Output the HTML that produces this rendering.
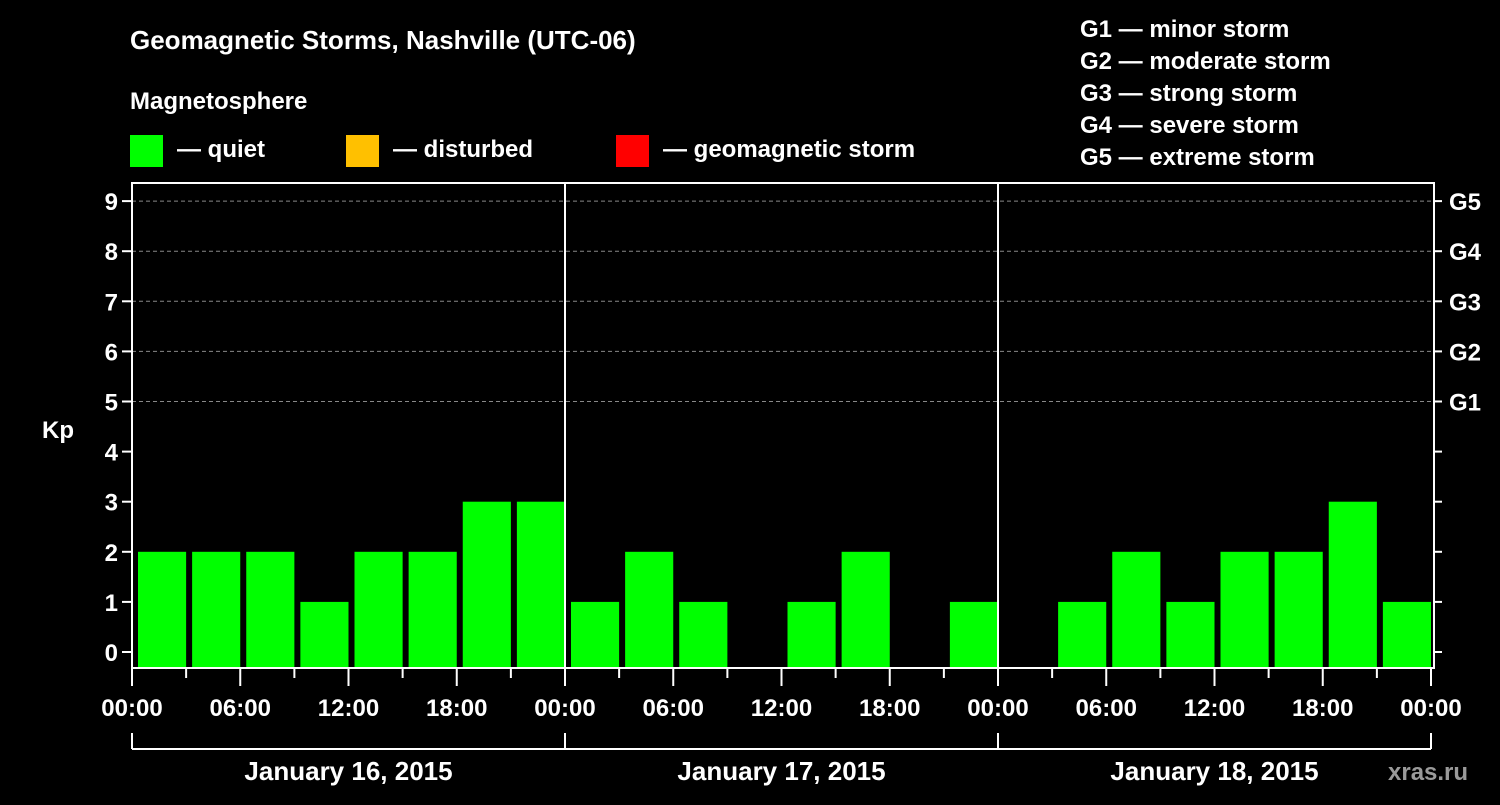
<!DOCTYPE html>
<html><head><meta charset="utf-8"><style>
body{margin:0;background:#000;width:1500px;height:800px;overflow:hidden}
svg text{font-family:"Liberation Sans",sans-serif;font-weight:bold;fill:#fff}
</style></head><body>
<svg id="c" width="1500" height="800" xmlns="http://www.w3.org/2000/svg">
<text x="130" y="49" font-size="26">Geomagnetic Storms, Nashville (UTC-06)</text>
<text x="130" y="109" font-size="24">Magnetosphere</text>
<g><rect x="130" y="135" width="33" height="32" fill="#00ff00"/><text x="177" y="157" font-size="24">— quiet</text></g>
<g><rect x="346" y="135" width="33" height="32" fill="#ffc000"/><text x="393" y="157" font-size="24">— disturbed</text></g>
<g><rect x="616" y="135" width="33" height="32" fill="#ff0000"/><text x="663" y="157" font-size="24">— geomagnetic storm</text></g>
<g font-size="24">
<text x="1080" y="37">G1 — minor storm</text><text x="1080" y="69">G2 — moderate storm</text><text x="1080" y="101">G3 — strong storm</text><text x="1080" y="133">G4 — severe storm</text><text x="1080" y="165">G5 — extreme storm</text></g>
<text x="1388" y="780" font-size="24" fill="#999" style="fill:#9a9a9a">xras.ru</text>
<g id="plot"></g>
</svg>
<script>
const days=["January 16, 2015","January 17, 2015","January 18, 2015"];
const kpValues=[2,2,2,1,2,2,3,3, 1,2,1,0,1,2,0,1, 0,1,2,1,2,2,3,1];
const yTicks=[0,1,2,3,4,5,6,7,8,9];
const gLabels=["G1","G2","G3","G4","G5"];
const xTickLabels=["00:00","06:00","12:00","18:00"];
const NS="http://www.w3.org/2000/svg";
const g=document.getElementById('plot');
const X0=132,X1=1431,Ytop=183,Ybot=668;
const slotW=(X1-X0)/kpValues.length;
const y=v=>652-v*50.1;
const x=i=>X0+i*slotW;
function mk(t,a,txt){const e=document.createElementNS(NS,t);for(const k in a)e.setAttribute(k,a[k]);if(txt!==undefined)e.textContent=txt;g.appendChild(e);return e;}
yTicks.forEach(v=>{
 if(v>=5){const l=mk('line',{x1:X0,x2:X1+3,y1:y(v),y2:y(v),stroke:'#888','stroke-dasharray':'4,3','stroke-width':1});
 
 }
 mk('line',{x1:X0-10,x2:X0,y1:y(v),y2:y(v),stroke:'#fff','stroke-width':2});
 mk('line',{x1:X1+3,x2:X1+11,y1:y(v),y2:y(v),stroke:'#fff','stroke-width':2});
 const t=mk('text',{x:X0-14,y:y(v)+9,'font-size':24,'text-anchor':'end'},String(v));
 
 
});
gLabels.forEach((s,i)=>{const t=mk('text',{x:1449,y:y(5+i)+9,'font-size':24},s);
 
 });
const yt=mk('text',{x:42,y:438,'font-size':24},'Kp');


kpValues.forEach((v,i)=>{ if(v<=0)return;
 const r=mk('rect',{x:x(i)+6,y:y(v),width:slotW-6,height:Ybot-y(v),fill:v>=5?'#ff0000':(v>=4?'#ffc000':'#00ff00')});
 
 
});
const fr=mk('rect',{x:X0,y:Ytop,width:X1+3-X0,height:Ybot-Ytop,fill:'none',stroke:'#fff','stroke-width':2});


const dayW=(X1-X0)/days.length;
for(let d=1;d<days.length;d++) mk('line',{x1:X0+d*dayW,x2:X0+d*dayW,y1:Ytop,y2:Ybot,stroke:'#fff','stroke-width':2});
for(let i=0;i<=kpValues.length;i++){
 const major=i%2==0;
 mk('line',{x1:x(i),x2:x(i),y1:Ybot,y2:major?686:678,stroke:'#fff','stroke-width':2});
 if(major){const t=mk('text',{x:x(i),y:716,'font-size':24,'text-anchor':'middle'},xTickLabels[(i/2)%4]);
 
 }
}
mk('line',{x1:X0,x2:X1,y1:749,y2:749,stroke:'#fff','stroke-width':2});
for(let d=0;d<=days.length;d++) mk('line',{x1:X0+d*dayW,x2:X0+d*dayW,y1:733,y2:749,stroke:'#fff','stroke-width':2});
days.forEach((s,d)=>{const t=mk('text',{x:X0+(d+0.5)*dayW,y:780,'font-size':26,'text-anchor':'middle'},s);
 
 });
</script>
</body></html>
